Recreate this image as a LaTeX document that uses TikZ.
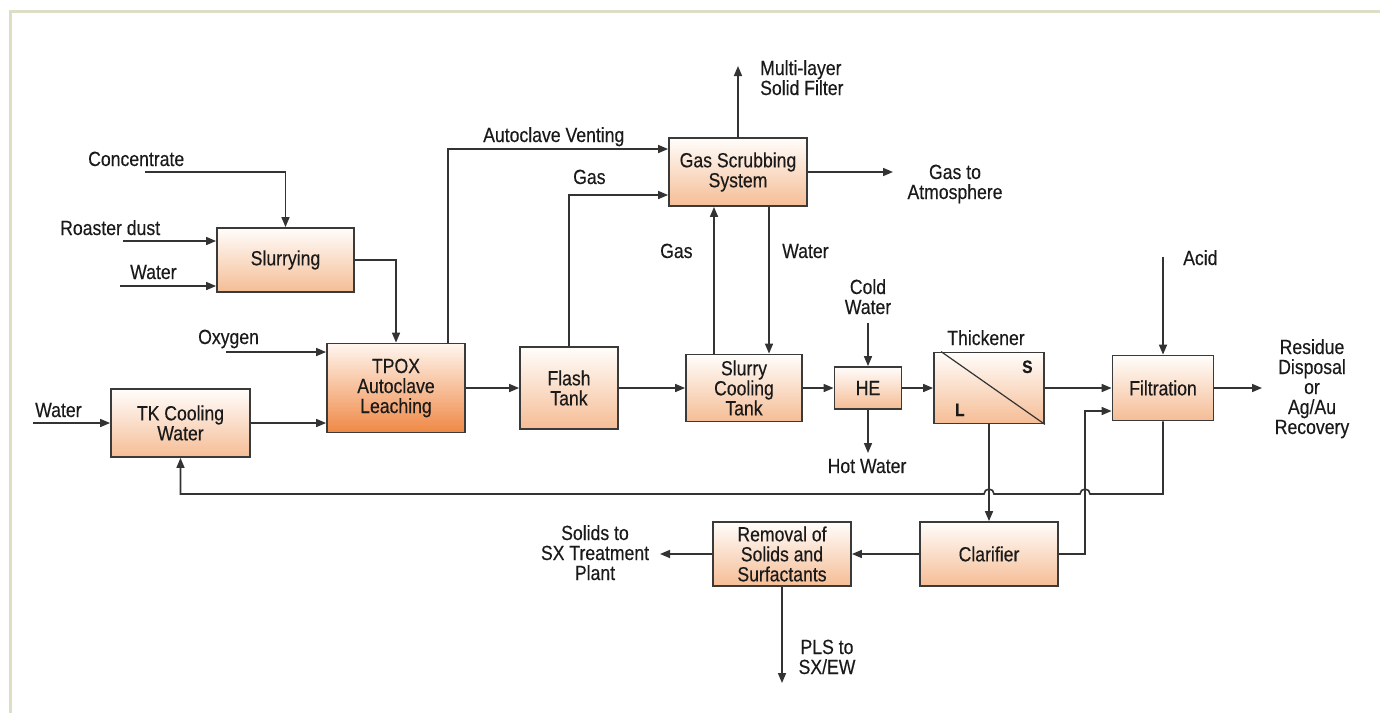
\documentclass[tikz,border=0pt]{standalone}
\usepackage{fontspec}
\setmainfont{Liberation Sans}[FakeStretch=0.86, FakeBold=0.35]
\usetikzlibrary{arrows.meta,calc}
\definecolor{ln}{HTML}{333333}
\definecolor{bd}{HTML}{3A3A3A}
\definecolor{txt}{HTML}{1A1A1A}
\definecolor{boxtop}{HTML}{FFFDFB}
\definecolor{boxbot}{HTML}{F5BD95}
\definecolor{hottop}{HTML}{FFF6EF}
\definecolor{hotbot}{HTML}{EF8845}
\definecolor{framec}{HTML}{DEDEC6}
\begin{document}
\begin{tikzpicture}[x=1pt,y=-1pt,
  every node/.style={font=\fontsize{20.5}{20}\selectfont, text=txt},
  box/.style={draw=bd, line width=1.8pt, top color=boxtop, bottom color=boxbot, inner sep=0pt, align=center},
  hotbox/.style={box, top color=hottop, bottom color=hotbot},
  flow/.style={draw=ln, line width=1.6pt},
  arr/.style={flow, -{Triangle[length=10pt,width=8pt]}},
  lbl/.style={inner sep=0pt, anchor=base west},
  clbl/.style={inner sep=0pt, anchor=base, align=center}]
\useasboundingbox (0,0) rectangle (1380,713);
\draw[framec, line width=2.7pt] (10.3,713) -- (10.3,11.3) -- (1380,11.3);

% boxes
\node[box, minimum width=137pt, minimum height=64pt] (slur) at (285.5,260) {Slurrying};
\node[hotbox, minimum width=138pt, minimum height=89pt] (tpox) at (396,388) {TPOX\\Autoclave\\Leaching};
\node[box, minimum width=139pt, minimum height=68pt] (tk) at (180.5,423) {TK Cooling\\Water};
\node[box, minimum width=138pt, minimum height=68pt] (gs) at (738,172) {Gas Scrubbing\\System};
\node[box, minimum width=98pt, minimum height=82pt] (flash) at (569,388) {Flash\\Tank};
\node[box, minimum width=116pt, minimum height=67pt] (sct) at (744,388) {Slurry\\Cooling\\Tank};
\node[box, minimum width=67pt, minimum height=42pt] (he) at (868,388) {HE};
\node[box, minimum width=110pt, minimum height=71pt] (thk) at (989,388) {};
\node[box, minimum width=101pt, minimum height=65pt] (fil) at (1163,388) {Filtration};
\node[box, minimum width=138pt, minimum height=64pt] (clr) at (989,554) {Clarifier};
\node[box, minimum width=138pt, minimum height=64pt] (rem) at (782,554) {Removal of\\Solids and\\Surfactants};

% thickener details
\draw[ln, line width=1.2pt] ([xshift=8pt]thk.north west) -- (thk.south east);
\node[lbl, font=\fontsize{18}{20}\selectfont\bfseries] (sS) at (1022,373) {S};
\node[lbl, font=\fontsize{18}{20}\selectfont\bfseries] (sL) at (955,416) {L};
\node[clbl] (thkl) at (986,345) {Thickener};

% free ends
\coordinate (c0) at (145,172);
\coordinate (rd0) at (123,241);
\coordinate (w0) at (120,286);
\coordinate (ox0) at (226,352);
\coordinate (wl0) at (33,423);
\coordinate (mlt) at (738,66);
\coordinate (atm) at (893,172);
\coordinate (cw0) at (868,323);
\coordinate (hw0) at (868,453);
\coordinate (acid0) at (1163,257);
\coordinate (res0) at (1262,388);
\coordinate (sol0) at (660,554);
\coordinate (pls0) at (782,683);
\coordinate (vent) at (448,149);
\coordinate (jx) at (1085,411);
\coordinate (rety) at (0,494);

% labels (multi-line labels anchored at the baseline of their last line)
\node[lbl] (lconc) at (88,166) {Concentrate};
\node[lbl] (lrd) at (60,235) {Roaster dust};
\node[lbl] (lw1) at (130,279) {Water};
\node[lbl] (lox) at (198,344) {Oxygen};
\node[lbl] (lw2) at (35,417) {Water};
\node[lbl] (lav) at (483,142) {Autoclave Venting};
\node[lbl] (lg1) at (573,184) {Gas};
\node[lbl] (lg2) at (660,258) {Gas};
\node[lbl] (lwat) at (782,258) {Water};
\node[inner sep=0pt, anchor=base west, align=left] (lml) at (760,95) {Multi-layer\\Solid Filter};
\node[clbl] (latm) at (955,199) {Gas to\\Atmosphere};
\node[clbl] (lcw) at (868,314) {Cold\\Water};
\node[clbl] (lhw) at (867,473) {Hot Water};
\node[lbl] (lacid) at (1183,265) {Acid};
\node[clbl] (lres) at (1312,434) {Residue\\Disposal\\or\\Ag/Au\\Recovery};
\node[clbl] (lsol) at (595,580) {Solids to\\SX Treatment\\Plant};
\node[clbl] (lpls) at (827,674) {PLS to\\SX/EW};

% connectors
\draw[arr] (c0) -| (slur.north);
\draw[arr] (rd0) -- (rd0 -| slur.west);
\draw[arr] (w0) -- (w0 -| slur.west);
\draw[arr] (slur.east) -| (tpox.north);
\draw[arr] (ox0) -- (ox0 -| tpox.west);
\draw[arr] (wl0) -- (tk.west);
\draw[arr] (tk.east) -- (tk.east -| tpox.west);
\draw[arr] (vent |- tpox.north) -- (vent) -- (vent -| gs.west);
\draw[arr] (tpox.east) -- (flash.west);
\draw[arr] (flash.north) |- ([yshift=-23pt]gs.west);
\draw[arr] (flash.east) -- (sct.west);
\draw[arr] ([xshift=-30pt]sct.north) -- ([xshift=-30pt]sct.north |- gs.south);
\draw[arr] ([xshift=25pt]sct.north |- gs.south) -- ([xshift=25pt]sct.north);
\draw[arr] (gs.north) -- (mlt);
\draw[arr] (gs.east) -- (atm);
\draw[arr] (sct.east) -- (he.west);
\draw[arr] (cw0) -- (he.north);
\draw[arr] (he.south) -- (hw0);
\draw[arr] (he.east) -- (thk.west);
\draw[arr] (thk.east) -- (fil.west);
\draw[arr] (acid0) -- (fil.north);
\draw[arr] (fil.east) -- (res0);
\draw[arr] (thk.south) -- (clr.north);
\draw[arr] (clr.east) -| (jx) -- (jx -| fil.west);
\draw[arr] (clr.west) -- (rem.east);
\draw[arr] (rem.west) -- (sol0);
\draw[arr] (rem.south) -- (pls0);
\draw[arr] (fil.south) -- (fil.south |- rety)
  -- ([xshift=5pt]jx |- rety) arc[start angle=0, end angle=180, radius=5pt]
  -- ([xshift=5pt]thk.south |- rety) arc[start angle=0, end angle=180, radius=5pt]
  -- (tk.south |- rety) -- (tk.south);
\end{tikzpicture}
\end{document}
